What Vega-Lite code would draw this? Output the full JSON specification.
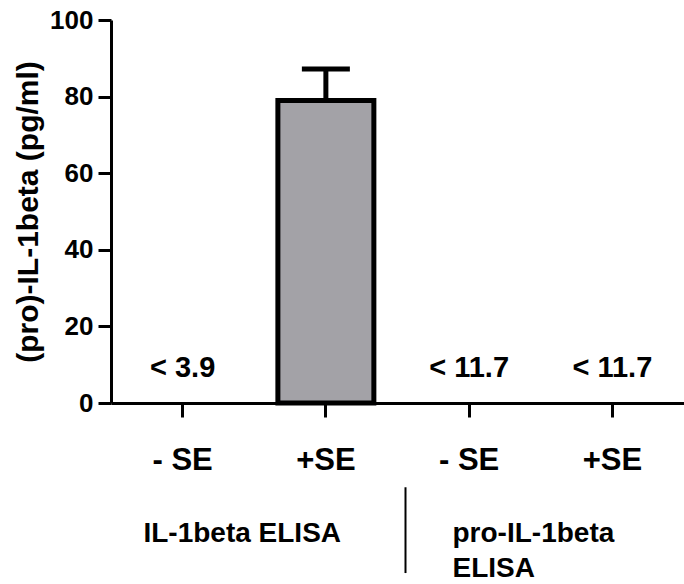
{
  "$schema": "https://vega.github.io/schema/vega-lite/v6.json",
  "autosize": {"type": "none"},
  "padding": {"left": 111, "top": 20, "right": 0, "bottom": 181},
  "width": 573,
  "height": 383,
  "background": "white",
  "config": {
    "view": {"stroke": null},
    "font": "Liberation Sans",
    "axis": {
      "grid": false,
      "domainColor": "black",
      "domainWidth": 3,
      "tickColor": "black",
      "tickWidth": 3,
      "labelFont": "Liberation Sans",
      "labelFontWeight": "bold",
      "labelColor": "black",
      "titleFont": "Liberation Sans",
      "titleFontWeight": "bold",
      "titleColor": "black"
    }
  },
  "datasets": {
    "bars": [
      {"cat": "IL|- SE", "value": null, "err": null, "note": "< 3.9"},
      {"cat": "IL|+SE", "value": 79, "err": 87.2, "note": ""},
      {"cat": "pro|- SE", "value": null, "err": null, "note": "< 11.7"},
      {"cat": "pro|+SE", "value": null, "err": null, "note": "< 11.7"}
    ],
    "groups": [
      {"cat": "IL|- SE", "label": ["IL-1beta ELISA"], "side": "left"},
      {"cat": "pro|- SE", "label": ["pro-IL-1beta", "ELISA"], "side": "right"}
    ]
  },
  "layer": [
    {
      "data": {"name": "bars"},
      "transform": [{"filter": "datum.value != null"}],
      "mark": {"type": "bar", "fill": "#a3a2a7", "stroke": "black", "strokeWidth": 5, "width": {"band": 0.67}},
      "encoding": {
        "x": {
          "field": "cat",
          "type": "nominal",
          "sort": null,
          "scale": {"domain": ["IL|- SE", "IL|+SE", "pro|- SE", "pro|+SE"], "paddingInner": 0, "paddingOuter": 0},
          "axis": {
            "title": null,
            "labelExpr": "split(datum.label, '|')[1]",
            "labelAngle": 0,
            "labelFontSize": 31,
            "tickSize": 14,
            "labelPadding": 28
          }
        },
        "y": {
          "field": "value",
          "type": "quantitative",
          "scale": {"domain": [0, 100], "nice": false},
          "axis": {
            "title": "(pro)-IL-1beta  (pg/ml)",
            "titleFontSize": 30,
            "titlePadding": 6,
            "values": [0, 20, 40, 60, 80, 100],
            "labelFontSize": 26,
            "tickSize": 13,
            "labelPadding": 5
          }
        }
      }
    },
    {
      "data": {"name": "bars"},
      "transform": [{"filter": "datum.value != null"}],
      "mark": {"type": "rule", "color": "black", "strokeWidth": 5},
      "encoding": {
        "x": {"field": "cat", "type": "nominal", "sort": null},
        "y": {"field": "value", "type": "quantitative"},
        "y2": {"field": "err"}
      }
    },
    {
      "data": {"name": "bars"},
      "transform": [{"filter": "datum.value != null"}],
      "mark": {"type": "tick", "color": "black", "size": 48, "thickness": 5, "opacity": 1},
      "encoding": {
        "x": {"field": "cat", "type": "nominal", "sort": null},
        "y": {"field": "err", "type": "quantitative"}
      }
    },
    {
      "data": {"name": "bars"},
      "transform": [{"filter": "datum.note != ''"}],
      "mark": {"type": "text", "fontSize": 29, "fontWeight": "bold", "color": "black", "baseline": "alphabetic", "align": "center", "dy": -26},
      "encoding": {
        "x": {"field": "cat", "type": "nominal", "sort": null},
        "y": {"datum": 0, "type": "quantitative"},
        "text": {"field": "note"}
      }
    },
    {
      "data": {"name": "groups"},
      "transform": [{"filter": "datum.side == 'left'"}],
      "mark": {"type": "text", "fontSize": 28, "fontWeight": "bold", "color": "black", "baseline": "alphabetic", "align": "center", "dy": 139, "dx": -12},
      "encoding": {
        "x": {"field": "cat", "type": "nominal", "sort": null, "bandPosition": 1},
        "y": {"datum": 0, "type": "quantitative"},
        "text": {"field": "label"}
      }
    },
    {
      "data": {"name": "groups"},
      "transform": [{"filter": "datum.side == 'right'"}],
      "mark": {"type": "text", "fontSize": 28, "fontWeight": "bold", "color": "black", "baseline": "alphabetic", "align": "left", "dy": 139, "dx": 55, "lineHeight": 35},
      "encoding": {
        "x": {"field": "cat", "type": "nominal", "sort": null, "bandPosition": 0},
        "y": {"datum": 0, "type": "quantitative"},
        "text": {"field": "label"}
      }
    },
    {
      "data": {"name": "groups"},
      "transform": [{"filter": "datum.side == 'right'"}],
      "mark": {"type": "rule", "color": "black", "strokeWidth": 2},
      "encoding": {
        "x": {"field": "cat", "type": "nominal", "sort": null, "bandPosition": 0},
        "xOffset": {"value": 8},
        "y": {"datum": -22, "type": "quantitative"},
        "y2": {"datum": -44.4}
      }
    }
  ]
}
